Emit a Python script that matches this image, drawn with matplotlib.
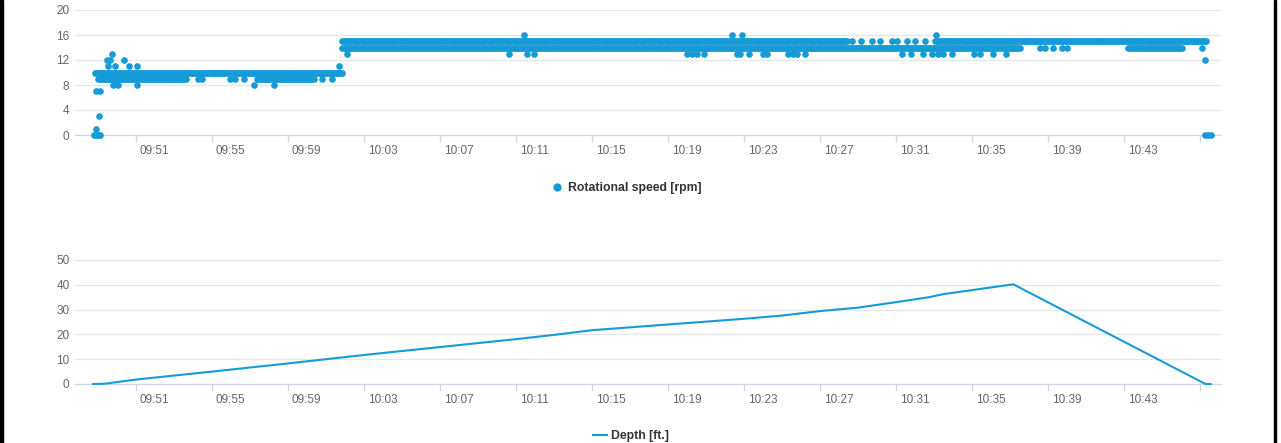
import matplotlib
matplotlib.use('Agg')
import matplotlib.pyplot as plt
import matplotlib.dates as mdates
import matplotlib.transforms as mtransforms
from matplotlib.lines import Line2D
from matplotlib.patches import Rectangle
import numpy as np
import pandas as pd

DAY = '2021-01-01 '
BLUE = '#179bd7'

# ---------------- Rotational speed [rpm] ----------------
# Dense continuous runs of readings (start, end, rpm); sampled every few seconds
rpm_run_start = ['09:48:50', '09:49:01', '09:57:21', '10:01:50', '10:01:50', '10:33:03', '10:43:13']
rpm_run_end = ['10:01:50', '09:53:40', '10:00:25', '10:28:28', '10:37:32', '10:47:21', '10:46:03']
rpm_run_value = [10, 9, 9, 15, 14, 15, 14]
RUN_SAMPLE = '5s'

# Individual readings outside the dense runs
rpm_point_time = [
    '09:48:46', '09:48:52', '09:49:00', '09:49:06',
    '09:48:54', '09:49:04', '09:48:53', '09:49:06',
    '09:49:28', '09:49:38', '09:50:22', '09:49:43',
    '09:49:31', '09:49:54', '09:50:39', '09:51:04', '10:01:41',
    '09:49:48', '09:50:04', '09:51:04', '09:57:13', '09:58:14',
    '09:54:16', '09:54:28', '09:55:57', '09:56:13', '09:56:41', '10:00:46', '10:01:18',
    '10:02:05', '10:10:36', '10:11:34', '10:11:55', '10:19:59', '10:20:15', '10:20:31',
    '10:20:52', '10:22:37', '10:22:47', '10:23:14', '10:24:00', '10:24:13', '10:25:19',
    '10:25:35', '10:25:48', '10:26:13', '10:31:18', '10:31:48', '10:32:25', '10:32:53',
    '10:33:13', '10:33:29', '10:33:56', '10:35:06', '10:35:25', '10:36:06', '10:36:47',
    '10:11:26', '10:22:21', '10:22:53', '10:33:05',
    '10:28:41', '10:29:10', '10:29:45', '10:30:10', '10:30:48', '10:31:03', '10:31:35',
    '10:32:00', '10:32:32',
    '10:38:35', '10:38:51', '10:39:16', '10:39:44', '10:40:00', '10:47:05',
    '10:47:16', '10:47:17', '10:47:25', '10:47:33',
]
rpm_point_value = [
    0, 0, 0, 0,
    1, 3, 7, 7,
    12, 12, 12, 13,
    11, 11, 11, 11, 11,
    8, 8, 8, 8, 8,
    9, 9, 9, 9, 9, 9, 9,
    13, 13, 13, 13, 13, 13, 13,
    13, 13, 13, 13, 13, 13, 13,
    13, 13, 13, 13, 13, 13, 13,
    13, 13, 13, 13, 13, 13, 13,
    16, 16, 16, 16,
    15, 15, 15, 15, 15, 15, 15,
    15, 15,
    14, 14, 14, 14, 14, 14,
    12, 0, 0, 0,
]

# ---------------- Depth [ft.] ----------------
depth_time = ['09:48:44', '09:49:20', '09:49:50', '09:51:00', '09:55:00', '09:59:00', '10:03:00',
              '10:07:00', '10:11:00', '10:13:00', '10:15:00', '10:19:00', '10:23:00', '10:25:00',
              '10:27:00', '10:29:00', '10:31:00', '10:32:44', '10:33:27', '10:37:10', '10:47:17',
              '10:47:33']
depth_ft = [0, 0.1, 0.6, 1.8, 5.0, 8.3, 11.7,
            14.9, 18.1, 19.8, 21.7, 24.0, 26.3, 27.6,
            29.4, 30.8, 33.0, 35.0, 36.2, 40.2, 0,
            0]

tick_times = ['09:51', '09:55', '09:59', '10:03', '10:07', '10:11', '10:15', '10:19',
              '10:23', '10:27', '10:31', '10:35', '10:39', '10:43', '10:47']
tick_labels = ['09:51', '09:55', '09:59', '10:03', '10:07', '10:11', '10:15', '10:19',
               '10:23', '10:27', '10:31', '10:35', '10:39', '10:43', '']
x_range = ['09:47:47', '10:48:06']


def tnum(ts):
    return mdates.date2num(pd.to_datetime([DAY + t for t in ts]))


plt.rcParams['font.family'] = ['Liberation Sans', 'DejaVu Sans']

W, H = 1281, 443
fig = plt.figure(figsize=(W / 100, H / 100), dpi=100)
fig.patch.set_facecolor('white')


def rect(x0, y0, x1, y1):
    return [x0 / W, 1 - y1 / H, (x1 - x0) / W, (y1 - y0) / H]


ax1 = fig.add_axes(rect(75, 10, 1221, 135))
ax2 = fig.add_axes(rect(75, 260, 1221, 384))

xlim = tnum(x_range)
label_offset = mtransforms.ScaledTranslation(3.5 / 100, 0, fig.dpi_scale_trans)


def style(ax, ymax, ystep):
    ax.set_xlim(xlim)
    ax.set_ylim(0, ymax)
    ax.set_yticks(np.arange(0, ymax + 0.1, ystep))
    for s in ['top', 'right', 'left']:
        ax.spines[s].set_visible(False)
    ax.spines['bottom'].set_color('#ccd6eb')
    ax.spines['bottom'].set_linewidth(0.9)
    ax.grid(axis='y', color='#e6e6e6', linewidth=0.9)
    ax.set_axisbelow(True)
    ax.tick_params(axis='y', length=0, pad=4, labelsize=8.5, labelcolor='#666666')
    ax.tick_params(axis='x', length=5.2, width=0.9, color='#ccd6eb', pad=2,
                   labelsize=8.5, labelcolor='#666666')
    ax.set_xticks(tnum(tick_times))
    ax.set_xticklabels(tick_labels)
    for lab in ax.get_xticklabels():
        lab.set_horizontalalignment('left')
        lab.set_transform(lab.get_transform() + label_offset)


# Top: rotational speed scatter
run_t, run_v = [], []
for s, e, v in zip(rpm_run_start, rpm_run_end, rpm_run_value):
    rng = pd.date_range(DAY + s, DAY + e, freq=RUN_SAMPLE)
    run_t.extend(mdates.date2num(rng))
    run_v.extend([v] * len(rng))
all_t = np.concatenate([np.array(run_t), tnum(rpm_point_time)])
all_v = np.concatenate([np.array(run_v), np.array(rpm_point_value)])
ax1.scatter(all_t, all_v, s=23, color=BLUE, linewidths=0, clip_on=False, zorder=3)
style(ax1, 20, 4)

# Bottom: depth line
ax2.plot(tnum(depth_time), depth_ft, color=BLUE, linewidth=1.5, clip_on=False, zorder=3)
style(ax2, 50, 10)

# Legends
fig.add_artist(Line2D([556.7 / W], [1 - 186.7 / H], marker='o', markersize=5, color=BLUE,
                      linestyle='none', transform=fig.transFigure))
fig.text(567.5 / W, 1 - 186.7 / H, 'Rotational speed [rpm]', fontsize=8.8, fontweight='bold',
         color='#333333', ha='left', va='center_baseline')
fig.add_artist(Line2D([593 / W, 607 / W], [1 - 435 / H, 1 - 435 / H], color=BLUE, linewidth=1.5,
                      transform=fig.transFigure))
fig.text(611 / W, 1 - 435 / H, 'Depth [ft.]', fontsize=8.8, fontweight='bold',
         color='#333333', ha='left', va='center_baseline')

# Black frame edges
fig.add_artist(Rectangle((0, 0), 2.5 / W, 1, transform=fig.transFigure, color='black'))
fig.add_artist(Rectangle((1273.5 / W, 0), 2.5 / W, 1, transform=fig.transFigure, color='black'))

fig.savefig('out.png', dpi=100)
